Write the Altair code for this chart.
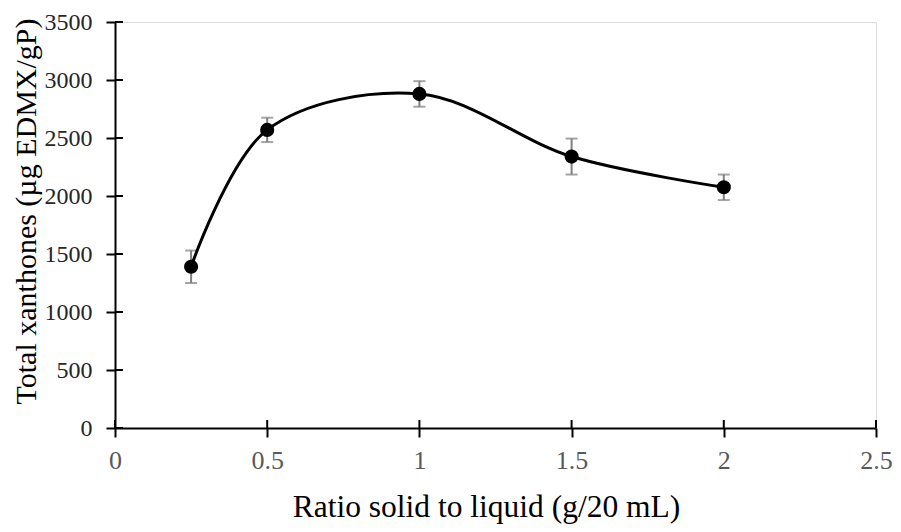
import altair as alt
import pandas as pd

ratio = [0.25, 0.5, 1.0, 1.5, 2.0]
xanthones = [1390, 2570, 2880, 2340, 2075]
err = [140, 105, 110, 155, 110]
x_ticks = [0, 0.5, 1.0, 1.5, 2.0, 2.5]
y_ticks = [0, 500, 1000, 1500, 2000, 2500, 3000, 3500]

W, H = 761, 406
FONT = "Liberation Serif"

df = pd.DataFrame({"x": ratio, "y": xanthones, "e": err})
df["lo"] = df["y"] - df["e"]
df["hi"] = df["y"] + df["e"]

xs = alt.Scale(domain=[0, 2.5], nice=False, zero=False)
ys = alt.Scale(domain=[0, 3500], nice=False)

xaxis = alt.Axis(values=x_ticks, format=".1~f", title="Ratio solid to liquid (g/20 mL)", grid=False,
                 domainColor="black", domainWidth=2, tickColor="black", tickWidth=2, tickSize=9,
                 labelColor="#595959", labelFont=FONT, labelFontSize=26, labelPadding=10,
                 labelFlush=False, titleFont=FONT, titleFontSize=31.5, titleFontWeight="normal",
                 titleColor="black", titlePadding=18, titleX=371, titleAlign="center")
yaxis = alt.Axis(values=y_ticks, format="d", title="Total xanthones (µg EDMX/gP)", grid=False,
                 domainColor="black", domainWidth=2, tickColor="black", tickWidth=2, tickSize=9,
                 labelColor="#262626", labelFont=FONT, labelFontSize=24, labelPadding=14,
                 labelFlush=False, titleFont=FONT, titleFontSize=30, titleFontWeight="normal",
                 titleColor="black", titlePadding=3, titleY=189, titleAlign="center")

base = alt.Chart(df)

err_rule = base.mark_rule(color="#7f7f7f", strokeWidth=2).encode(
    x=alt.X("x:Q", scale=xs, axis=xaxis),
    y=alt.Y("lo:Q", scale=ys, axis=yaxis),
    y2="hi:Q",
)
cap_lo = base.mark_tick(color="#7f7f7f", orient="horizontal", size=12, thickness=2).encode(
    x=alt.X("x:Q", scale=xs), y=alt.Y("lo:Q", scale=ys))
cap_hi = base.mark_tick(color="#7f7f7f", orient="horizontal", size=12, thickness=2).encode(
    x=alt.X("x:Q", scale=xs), y=alt.Y("hi:Q", scale=ys))

line = base.mark_line(color="black", strokeWidth=3, interpolate="catmull-rom").encode(
    x=alt.X("x:Q", scale=xs), y=alt.Y("y:Q", scale=ys))
pts = base.mark_circle(color="black", opacity=1, size=200).encode(
    x=alt.X("x:Q", scale=xs), y=alt.Y("y:Q", scale=ys))

ytk = alt.Chart(pd.DataFrame({"t": y_ticks})).mark_rule(color="black", strokeWidth=2).encode(
    y=alt.Y("t:Q", scale=ys), x=alt.value(0), x2=alt.value(8))
xtk = alt.Chart(pd.DataFrame({"t": x_ticks})).mark_rule(color="black", strokeWidth=2).encode(
    x=alt.X("t:Q", scale=xs), y=alt.value(H), y2=alt.value(H - 8))

chart = alt.layer(err_rule, cap_lo, cap_hi, line, pts, ytk, xtk).properties(
    width=W, height=H,
    autosize=alt.AutoSizeParams(type="none"),
    padding={"left": 107, "top": 14, "right": 17, "bottom": 96},
).configure_view(stroke=None).configure(background="white")

chart.save("out.html", embed_options={"renderer": "svg", "actions": False})
